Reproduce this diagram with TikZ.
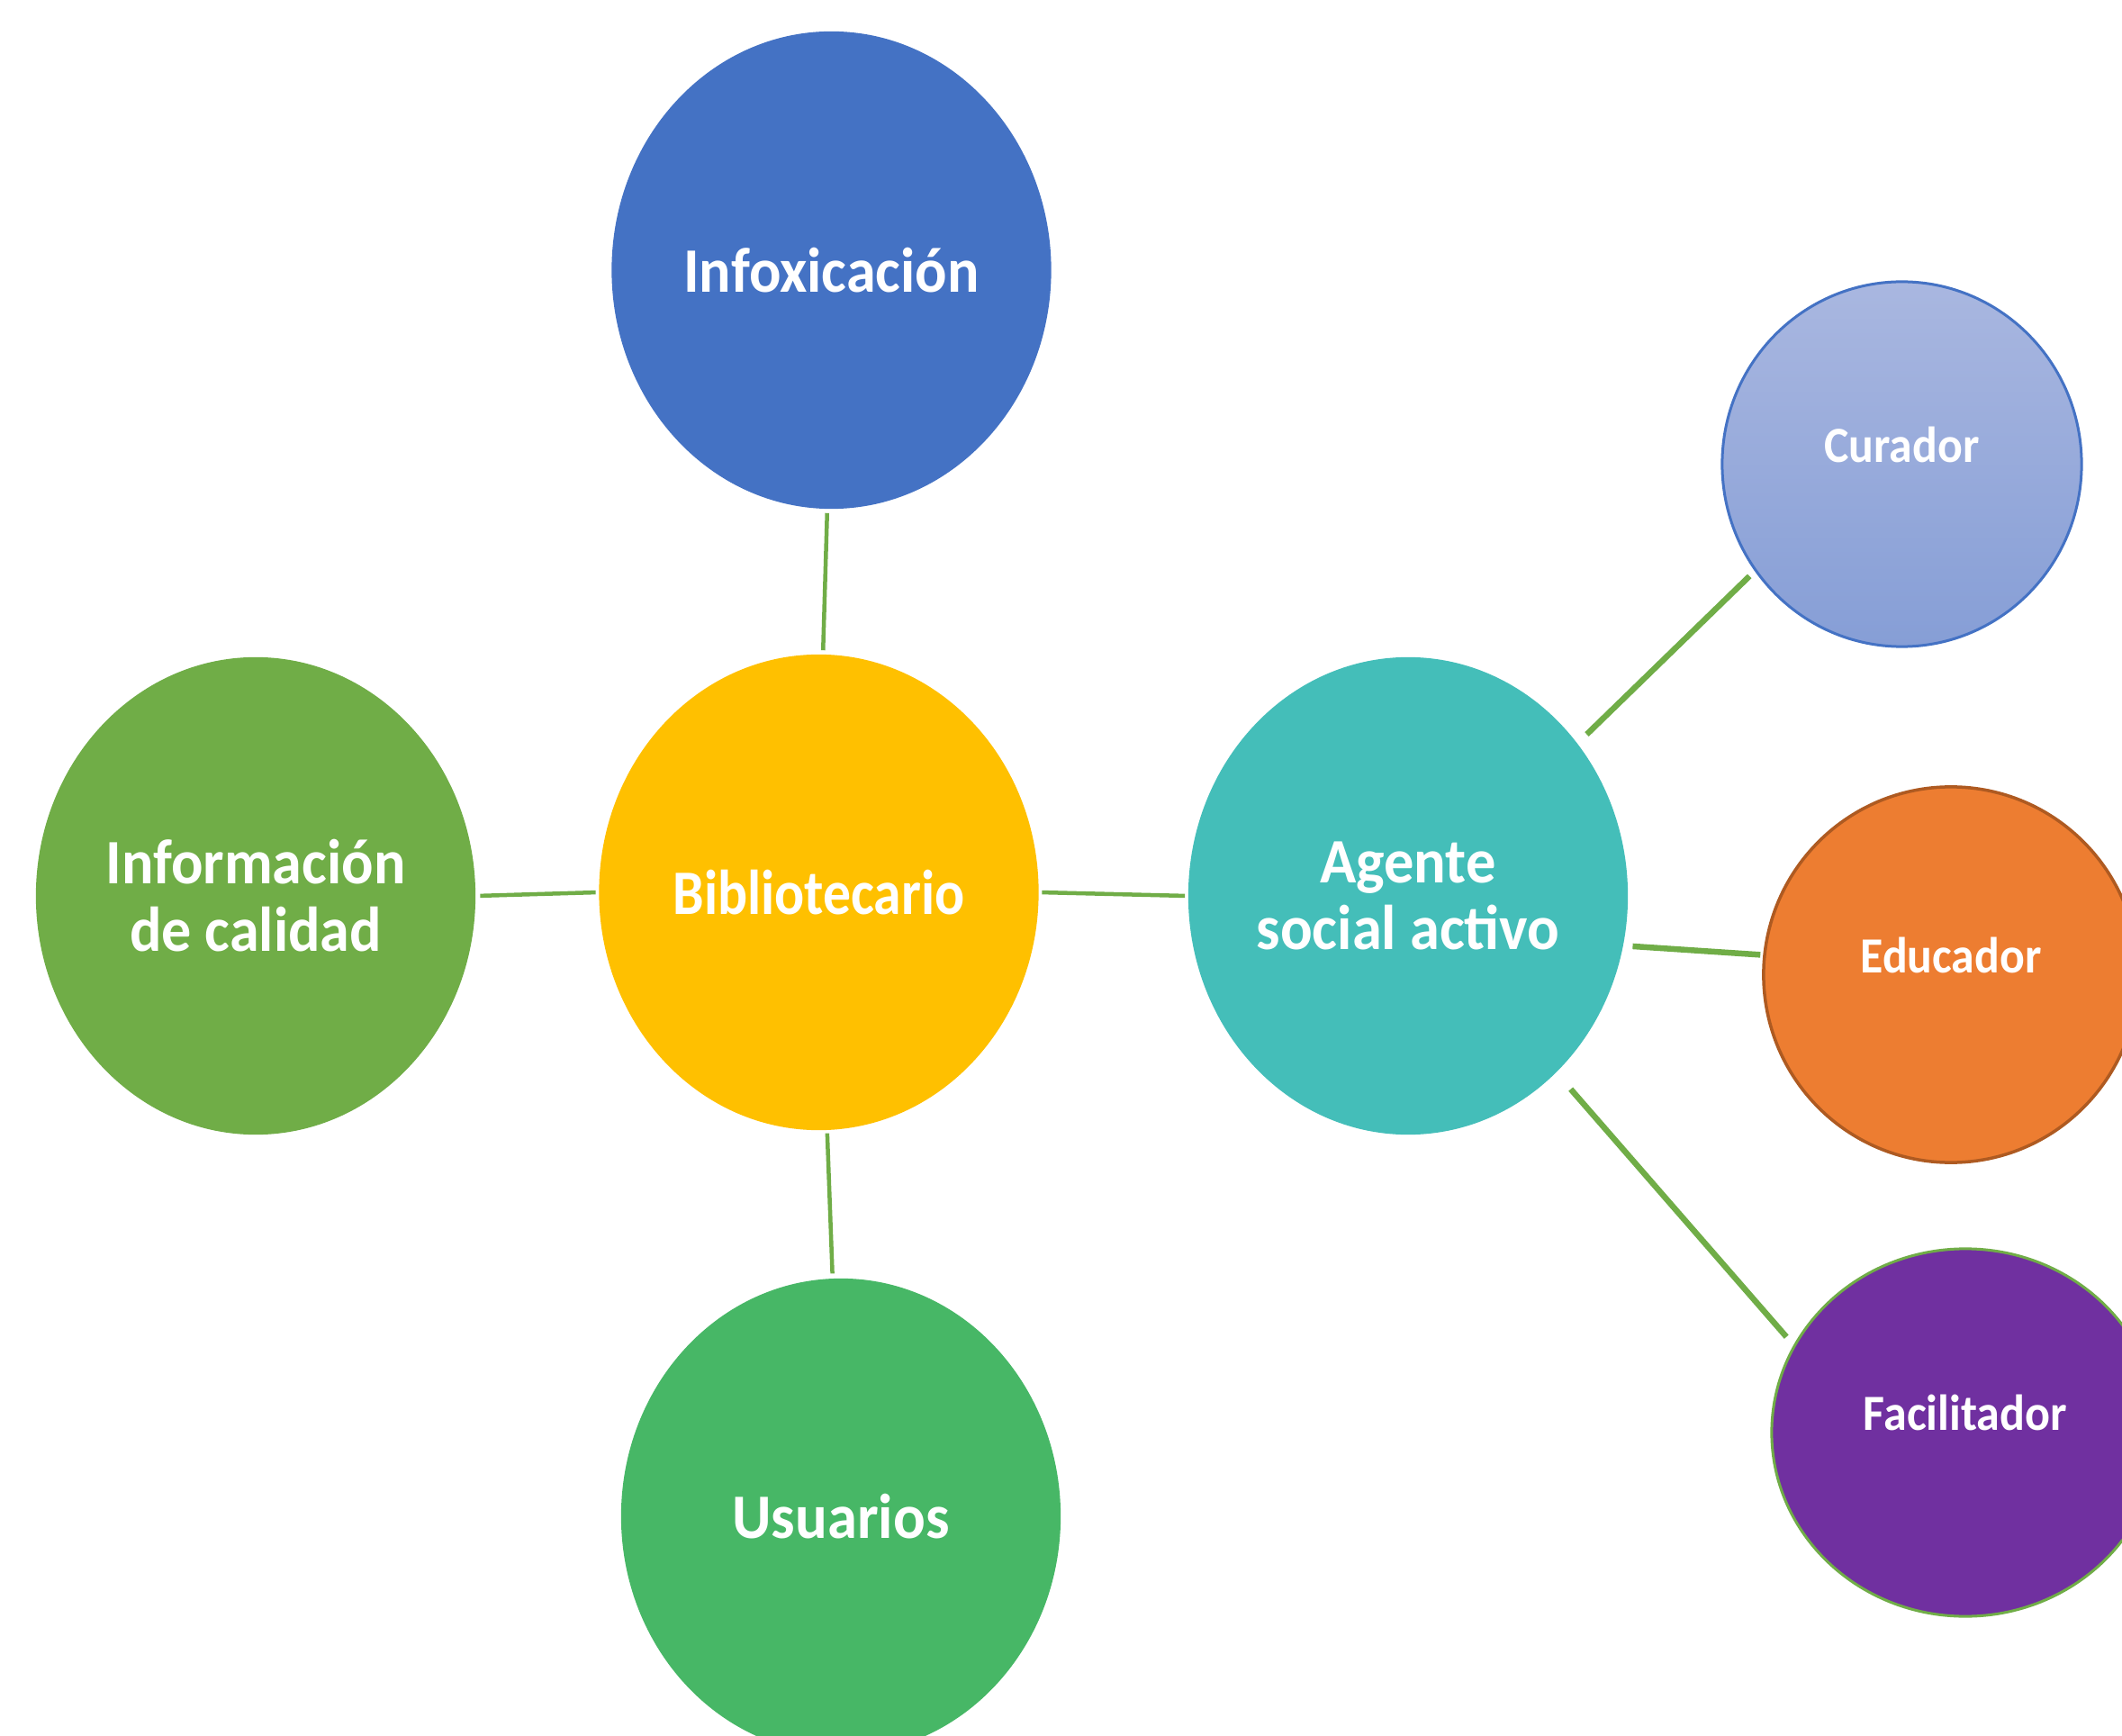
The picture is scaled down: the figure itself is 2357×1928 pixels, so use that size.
\documentclass[tikz,border=0pt]{standalone}
\usepackage{fontspec}
\setmainfont{Carlito}
\usetikzlibrary{shapes.geometric}
\definecolor{cblue}{HTML}{4472C4}
\definecolor{cyellow}{HTML}{FFC000}
\definecolor{cgreen}{HTML}{70AD47}
\definecolor{cgreen2}{HTML}{47B766}
\definecolor{cteal}{HTML}{44BEB9}
\definecolor{curtop}{HTML}{A9B7E0}
\definecolor{curbot}{HTML}{869ED6}
\definecolor{corange}{HTML}{ED7D31}
\definecolor{corangeb}{HTML}{AE5A21}
\definecolor{cpurple}{HTML}{7030A0}
\newcommand{\sqz}[2]{\scalebox{#1}[1]{#2}}
\begin{document}
\begin{tikzpicture}[x=0.01cm,y=-0.01cm,
  bub/.style={ellipse, inner sep=0pt},
  bigbub/.style={bub, minimum width=4.88cm, minimum height=5.30cm},
  bigtxt/.style={text=white, align=center, inner sep=0pt,
    font=\bfseries\fontsize{20}{21.3}\selectfont},
  smtxt/.style={text=white, inner sep=0pt, font=\bfseries\fontsize{16}{19}\selectfont, yshift=0.22cm},
  conn/.style={draw=cgreen, line width=0.045cm},
  connw/.style={draw=cgreen, line width=0.065cm}]
\useasboundingbox (0,0) rectangle (2357,1928);
\clip (0,0) rectangle (2357,1928);
\fill[white] (0,0) rectangle (2357,1928);

\node[bigbub, fill=cblue, label={[bigtxt]center:\sqz{0.94}{Infoxicación}}] (infox) at (923.5,300) {};
\node[bigbub, fill=cyellow, minimum height=5.28cm, label={[bigtxt]center:\sqz{0.877}{Bibliotecario}}] (biblio) at (909.5,991) {};
\node[bigbub, fill=cgreen, label={[bigtxt]center:\sqz{0.94}{Información}\\\sqz{0.94}{de calidad}}] (info) at (284,995) {};
\node[bigbub, fill=cteal, label={[bigtxt]center:\sqz{0.945}{Agente}\\\sqz{0.945}{social activo}}] (agente) at (1564,995) {};
\node[bigbub, fill=cgreen2, minimum height=5.28cm, label={[bigtxt]center:\sqz{0.947}{Usuarios}}] (usuarios) at (934,1684) {};

\node[bub, draw=cblue, line width=0.03cm, top color=curtop, bottom color=curbot,
  minimum width=3.99cm, minimum height=4.05cm,
  label={[smtxt]center:\sqz{0.92}{Curador}}] (curador) at (2112.5,515.5) {};
\node[bub, draw=corangeb, line width=0.035cm, fill=corange,
  minimum width=4.16cm, minimum height=4.17cm,
  label={[smtxt]center:\sqz{0.92}{Educador}}] (educador) at (2167,1082.5) {};
\node[bub, draw=cgreen, line width=0.03cm, fill=cpurple,
  minimum width=4.30cm, minimum height=4.08cm,
  label={[smtxt]center:\sqz{0.926}{Facilitador}}] (facilitador) at (2183,1591) {};

\draw[conn, shorten <=0.04cm, shorten >=0.04cm] (infox.269) -- (biblio.89);
\draw[conn, shorten <=0.045cm, shorten >=0.03cm] (info.0) -- (biblio.180);
\draw[conn, shorten <=0.03cm, shorten >=0.03cm] (biblio.0) -- (agente.180);
\draw[conn, shorten <=0.03cm, shorten >=0.05cm] (biblio.272) -- (usuarios.92);
\draw[connw, shorten <=0.14cm, shorten >=0.08cm] (agente.42) -- (curador.216.5);
\draw[connw, shorten <=0.10cm, shorten >=0.03cm] (agente.-13) -- (educador.174);
\draw[connw, shorten <=0.24cm, shorten >=0.12cm] (agente.-50) -- (facilitador.153);
\end{tikzpicture}
\end{document}
